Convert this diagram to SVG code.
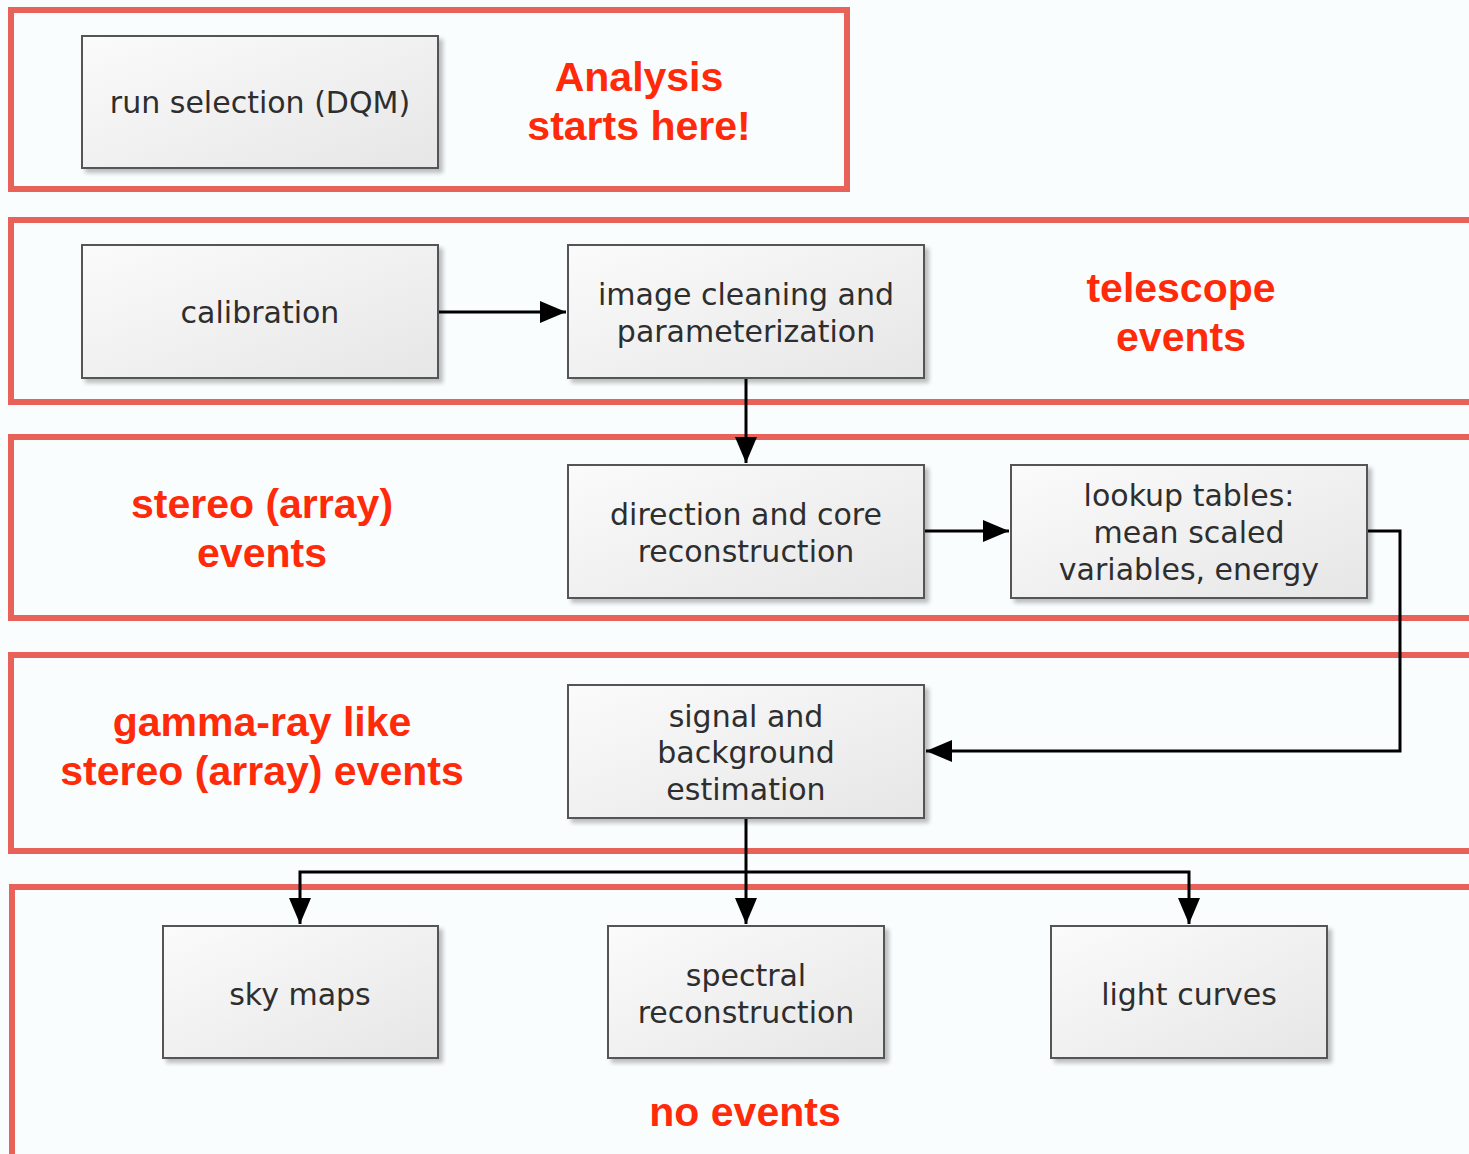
<svg xmlns="http://www.w3.org/2000/svg" width="1469" height="1154" viewBox="0 0 1469 1154">
<defs>
<style>
.band{fill:none;stroke:#e8625a;stroke-width:6}
.box{fill:url(#g);stroke:#555;stroke-width:2;filter:url(#sh)}
.t{font-family:"DejaVu Sans",Verdana,sans-serif;font-size:30px;fill:#2e2e2e;text-anchor:middle}
.r{font-family:"Liberation Sans",Arial,sans-serif;font-weight:bold;font-size:41px;fill:#ff2a0a;text-anchor:middle}
.c{fill:none;stroke:#000;stroke-width:3}
</style>
<linearGradient id="g" x1="0" y1="0" x2="1" y2="1">
<stop offset="0" stop-color="#fbfbfb"/>
<stop offset="1" stop-color="#e6e6e6"/>
</linearGradient>
<filter id="sh" x="-10%" y="-10%" width="130%" height="130%">
<feGaussianBlur in="SourceAlpha" stdDeviation="2"/>
<feOffset dx="4" dy="4" result="o"/>
<feComponentTransfer><feFuncA type="linear" slope="0.25"/></feComponentTransfer>
<feMerge><feMergeNode/><feMergeNode in="SourceGraphic"/></feMerge>
</filter>
<marker id="a" markerUnits="userSpaceOnUse" markerWidth="28" markerHeight="24" refX="26" refY="11" orient="auto">
<path d="M0,0 L26,11 L0,22 z" fill="#000"/>
</marker>
</defs>
<rect width="1469" height="1154" fill="#f9fdfd"/>
<g id="bands">
<rect class="band" x="11" y="10" width="836" height="179"/>
<rect class="band" x="11" y="220" width="1480" height="182"/>
<rect class="band" x="11" y="437" width="1480" height="181"/>
<rect class="band" x="11" y="655" width="1480" height="196"/>
<rect class="band" x="12" y="887" width="1480" height="300"/>
</g>
<g id="labels">
<text class="r" x="639" y="91">Analysis</text>
<text class="r" x="639" y="140">starts here!</text>
<text class="r" x="1181" y="302">telescope</text>
<text class="r" x="1181" y="351">events</text>
<text class="r" x="262" y="518">stereo (array)</text>
<text class="r" x="262" y="567">events</text>
<text class="r" x="262" y="736">gamma-ray like</text>
<text class="r" x="262" y="785">stereo (array) events</text>
<text class="r" x="745" y="1126">no events</text>
</g>
<g id="connectors">
<path class="c" d="M438,312 L566,312" marker-end="url(#a)"/>
<path class="c" d="M746,378 L746,463" marker-end="url(#a)"/>
<path class="c" d="M924,531 L1009,531" marker-end="url(#a)"/>
<path class="c" d="M1367,531 L1400,531 L1400,751 L926,751" marker-end="url(#a)"/>
<path class="c" d="M746,818 L746,924" marker-end="url(#a)"/>
<path class="c" d="M746,872 L300,872 L300,924" marker-end="url(#a)"/>
<path class="c" d="M746,872 L1189,872 L1189,924" marker-end="url(#a)"/>
</g>
<g id="run-selection"><rect class="box" x="82" y="36" width="356" height="132"/><text class="t" x="260" y="113">run selection (DQM)</text></g>
<g id="calibration"><rect class="box" x="82" y="245" width="356" height="133"/><text class="t" x="260" y="323">calibration</text></g>
<g id="image-cleaning"><rect class="box" x="568" y="245" width="356" height="133"/><text class="t" x="746" y="305">image cleaning and</text><text class="t" x="746" y="342">parameterization</text></g>
<g id="direction"><rect class="box" x="568" y="465" width="356" height="133"/><text class="t" x="746" y="525">direction and core</text><text class="t" x="746" y="562">reconstruction</text></g>
<g id="lookup"><rect class="box" x="1011" y="465" width="356" height="133"/><text class="t" x="1189" y="506">lookup tables:</text><text class="t" x="1189" y="543">mean scaled</text><text class="t" x="1189" y="580">variables, energy</text></g>
<g id="signal"><rect class="box" x="568" y="685" width="356" height="133"/><text class="t" x="746" y="727">signal and</text><text class="t" x="746" y="763">background</text><text class="t" x="746" y="800">estimation</text></g>
<g id="sky-maps"><rect class="box" x="163" y="926" width="275" height="132"/><text class="t" x="300" y="1005">sky maps</text></g>
<g id="spectral"><rect class="box" x="608" y="926" width="276" height="132"/><text class="t" x="746" y="986">spectral</text><text class="t" x="746" y="1023">reconstruction</text></g>
<g id="light-curves"><rect class="box" x="1051" y="926" width="276" height="132"/><text class="t" x="1189" y="1005">light curves</text></g>
</svg>
